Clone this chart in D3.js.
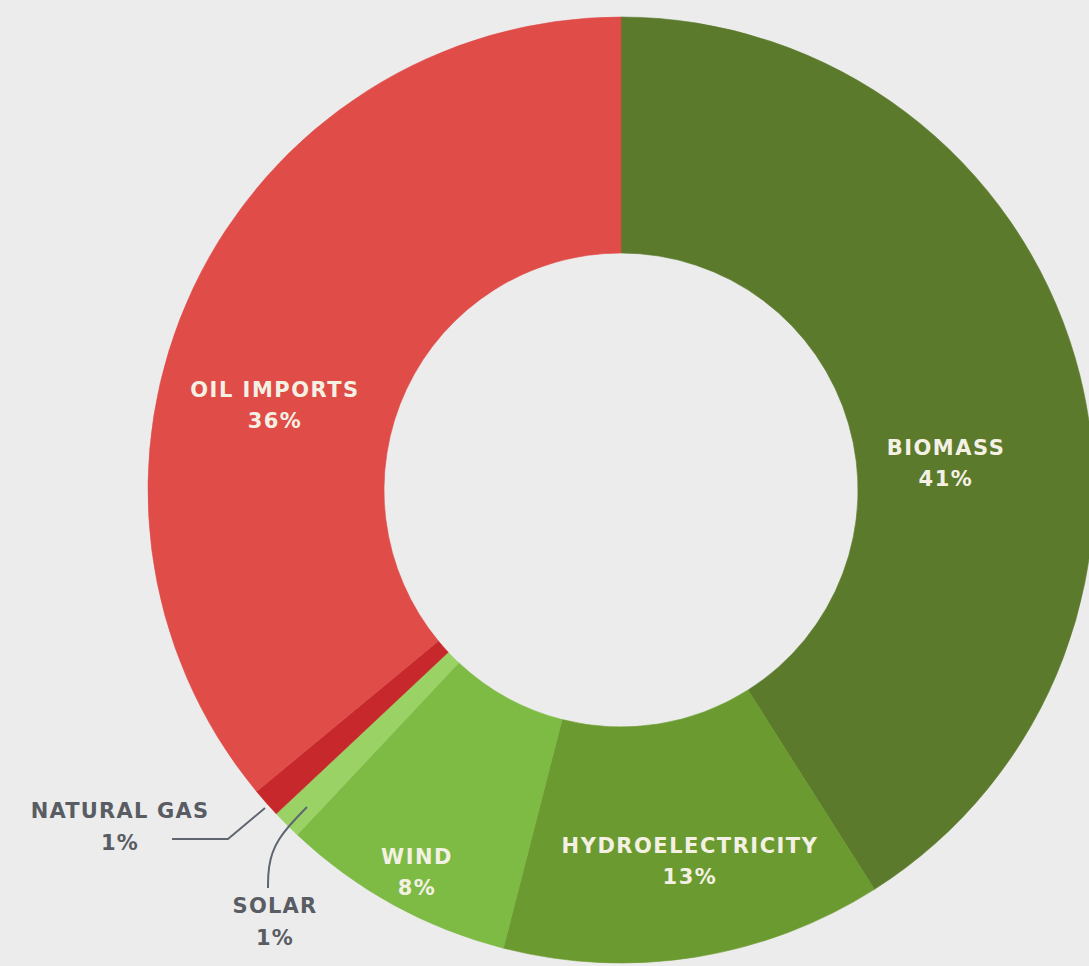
<!DOCTYPE html>
<html>
<head>
<meta charset="utf-8">
<script src="https://cdn.jsdelivr.net/npm/d3@7"></script>
<style>
html,body{margin:0;padding:0;background:#ececec;}
svg{display:block;}
</style>
</head>
<body>
<svg id="chart" width="1089" height="966"></svg>
<script>
// ---- data ----
const categories = ["BIOMASS", "HYDROELECTRICITY", "WIND", "SOLAR", "NATURAL GAS", "OIL IMPORTS"];
const shares = [41, 13, 8, 1, 1, 36];
const percentLabels = ["41%", "13%", "8%", "1%", "1%", "36%"];
const colors = ["#5b7a2c", "#6b9b30", "#7dbb45", "#9ad266", "#c6282c", "#e04c48"];

// ---- layout ----
const W = 1089, H = 966;
const cx = 621, cy = 490, rOuter = 473, rInner = 237;
// inside labels: offsets from centre (dx, dy) for first line baseline
const insideLabels = {
  "BIOMASS": [325, -35],
  "HYDROELECTRICITY": [69, 363],
  "WIND": [-204, 374],
  "OIL IMPORTS": [-346, -93]
};
// callouts: text anchor + leader path (relative to centre)
const callouts = {
  "NATURAL GAS": {text: [-501, 328], path: [[-449, 349], [-393, 349], [-356, 318]]},
  "SOLAR": {text: [-346, 423], path: [[-353, 398], [-353, 378], [-346, 350], [-314, 317]]}
};

const svg = d3.select("#chart");
const g = svg.append("g").attr("transform", `translate(${cx},${cy})`);

const data = categories.map((c, i) => ({name: c, value: shares[i], pct: percentLabels[i], color: colors[i]}));
const pie = d3.pie().value(d => d.value).sort(null);
const arc = d3.arc().innerRadius(rInner).outerRadius(rOuter);

g.selectAll("path.slice").data(pie(data)).join("path")
  .attr("class", "slice")
  .attr("d", arc)
  .attr("fill", d => d.data.color)
  .attr("stroke", d => d.data.color)
  .attr("stroke-width", 0.6);

const font = "'DejaVu Sans', sans-serif";

data.forEach(d => {
  const p = insideLabels[d.name];
  if (!p) return;
  const t = g.append("text")
    .attr("x", p[0]).attr("y", p[1])
    .attr("text-anchor", "middle")
    .attr("font-family", font)
    .attr("font-weight", 700)
    .attr("font-size", 21)
    .attr("letter-spacing", 1.5)
    .attr("fill", "#f4f1e4");
  t.append("tspan").attr("x", p[0]).attr("dy", 0).text(d.name);
  t.append("tspan").attr("x", p[0]).attr("dy", 31).text(d.pct);
});

const line = d3.line().curve(d3.curveLinear);
data.forEach(d => {
  const c = callouts[d.name];
  if (!c) return;
  g.append("path")
    .attr("d", d.name === "SOLAR" ? d3.line().curve(d3.curveBasis)(c.path) : line(c.path))
    .attr("fill", "none")
    .attr("stroke", "#5f6670")
    .attr("stroke-width", 2);
  const t = g.append("text")
    .attr("x", c.text[0]).attr("y", c.text[1])
    .attr("text-anchor", "middle")
    .attr("font-family", font)
    .attr("font-weight", 700)
    .attr("font-size", 21)
    .attr("letter-spacing", 1.2)
    .attr("fill", "#595d63");
  t.append("tspan").attr("x", c.text[0]).attr("dy", 0).text(d.name);
  t.append("tspan").attr("x", c.text[0]).attr("dy", 32).text(d.pct);
});
</script>
</body>
</html>
